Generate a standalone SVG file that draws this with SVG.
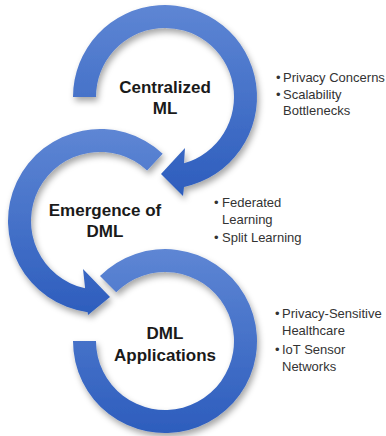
<svg xmlns="http://www.w3.org/2000/svg" width="386" height="436" viewBox="0 0 386 436">
  <defs>
    <linearGradient id="ringGrad" x1="0" y1="0" x2="0" y2="1">
      <stop offset="0" stop-color="#5e86d4"/>
      <stop offset="1" stop-color="#2d5dbd"/>
    </linearGradient>
    <filter id="shadow" x="-20%" y="-20%" width="140%" height="140%">
      <feDropShadow dx="2" dy="4" stdDeviation="3" flood-color="#000" flood-opacity="0.35"/>
    </filter>
    <style>
      .ring { fill: url(#ringGrad); filter: url(#shadow); }
      .title { font-family: "Liberation Sans", Arial, sans-serif; font-weight: bold; font-size: 17px; fill: #1a1a1a; text-anchor: middle; }
      .bullet { font-family: "Liberation Sans", Arial, sans-serif; font-size: 13px; fill: #333; }
    </style>
  </defs>
  <rect width="386" height="436" fill="#ffffff"/>

  <g id="node-dml-applications">
    <path class="ring" d="M 100 276 A 92 92 0 1 1 73 341 L 96 341 A 69 69 0 1 0 116.2 292.2 Z"/>
    <text class="title" x="165" y="339">DML</text>
    <text class="title" x="165" y="361">Applications</text>
    <g class="bullet">
      <text x="275" y="318">•</text><text x="282" y="318">Privacy-Sensitive</text>
      <text x="282" y="335">Healthcare</text>
      <text x="275" y="354">•</text><text x="282" y="354">IoT Sensor</text>
      <text x="282" y="371">Networks</text>
    </g>
  </g>

  <g id="node-emergence-of-dml">
    <path class="ring" d="M 162.7 153.7 A 92 92 0 1 0 87.7 312.2 L 88 315 L 110 297 L 83 269 L 85.1 288.3 A 69 69 0 1 1 147.1 170.5 Z"/>
    <text class="title" x="105" y="216">Emergence of</text>
    <text class="title" x="105" y="237">DML</text>
    <g class="bullet">
      <text x="214" y="207">•</text><text x="222" y="207">Federated</text>
      <text x="222" y="224">Learning</text>
      <text x="214" y="242">•</text><text x="222" y="242">Split Learning</text>
    </g>
  </g>

  <g id="node-centralized-ml">
    <path class="ring" d="M 73 97 A 92 92 0 1 1 184 187 L 183 196 L 161 174 L 185 148 L 184 163.3 A 69 69 0 1 0 96 97 Z"/>
    <text class="title" x="165" y="93">Centralized</text>
    <text class="title" x="165" y="114">ML</text>
    <g class="bullet">
      <text x="276" y="82">•</text><text x="283" y="82">Privacy Concerns</text>
      <text x="276" y="99">•</text><text x="283" y="99">Scalability</text>
      <text x="283" y="115">Bottlenecks</text>
    </g>
  </g>

  <g id="connectors"/>
</svg>
